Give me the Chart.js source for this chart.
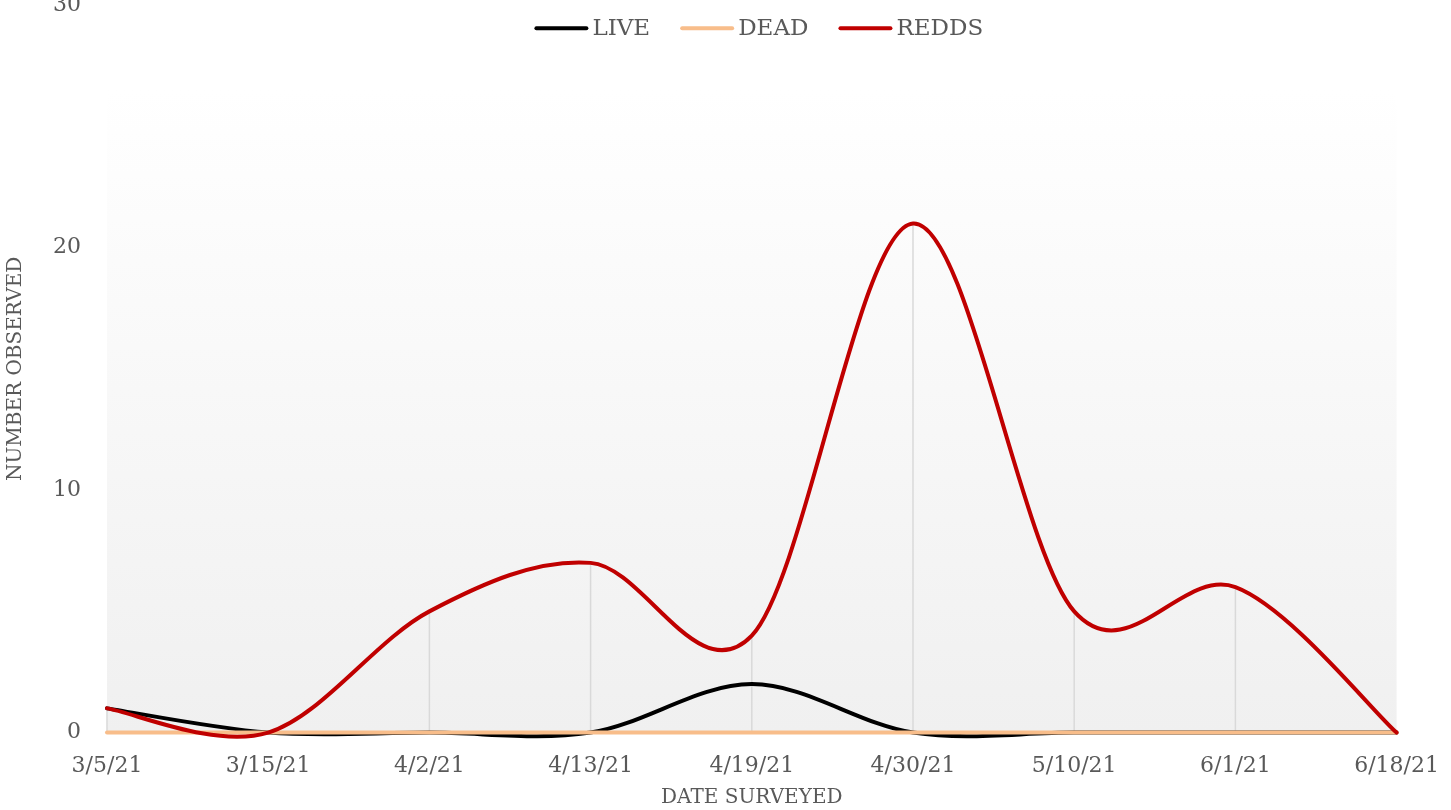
<!DOCTYPE html>
<html>
<head>
<meta charset="utf-8">
<script src="https://cdn.jsdelivr.net/npm/chart.js@4.4.0/dist/chart.umd.min.js"></script>
<style>
  html, body { margin: 0; padding: 0; background: #fff; overflow: hidden; }
  #wrap { position: absolute; left: 0; top: -26px; width: 1451px; height: 836px; }
</style>
</head>
<body>
<div id="wrap"><canvas id="chart"></canvas></div>
<script>
"use strict";

const dates = ["3/5/21", "3/15/21", "4/2/21", "4/13/21", "4/19/21", "4/30/21", "5/10/21", "6/1/21", "6/18/21"];
const live = [1, 0, 0, 0, 2, 0, 0, 0, 0];
const dead = [0, 0, 0, 0, 0, 0, 0, 0, 0];
const redds = [1, 0, 5, 7, 4, 21, 5, 6, 0];
const yTicks = [0, 10, 20, 30];

const textColor = "#595959";
const fontFamily = "'DejaVu Serif', serif";

// soft gray gradient behind the plot, like the spreadsheet
const plotBackground = {
    id: "plotBackground",
    beforeDraw(chart) {
        const { ctx, chartArea } = chart;
        const top = chartArea.top + (chartArea.bottom - chartArea.top) * 0.115;
        const grad = ctx.createLinearGradient(0, top, 0, chartArea.bottom);
        grad.addColorStop(0, "#ffffff");
        grad.addColorStop(1, "#f0f0f0");
        ctx.save();
        ctx.fillStyle = grad;
        ctx.fillRect(chartArea.left, top, chartArea.right - chartArea.left, chartArea.bottom - top);
        ctx.restore();
    }
};

// vertical drop lines from the highest value down to the axis
const dropLines = {
    id: "dropLines",
    beforeDatasetsDraw(chart) {
        const { ctx, scales } = chart;
        ctx.save();
        ctx.strokeStyle = "#d9d9d9";
        ctx.lineWidth = 1.5;
        for (let i = 0; i < dates.length; i++) {
            const top = Math.max(live[i], dead[i], redds[i]);
            if (top <= 0) continue;
            const x = scales.x.getPixelForValue(i);
            ctx.beginPath();
            ctx.moveTo(x, scales.y.getPixelForValue(top));
            ctx.lineTo(x, scales.y.getPixelForValue(0));
            ctx.stroke();
        }
        ctx.restore();
    }
};

// spreadsheet style smoothing: control arms are 1/6 of the neighbour chord
const excelSmooth = {
    id: "excelSmooth",
    beforeDatasetsDraw(chart) {
        chart.data.datasets.forEach((ds, di) => {
            const meta = chart.getDatasetMeta(di);
            meta.dataset.updateControlPoints(chart.chartArea, meta.indexAxis);
            const pts = meta.data;
            for (let i = 0; i < pts.length; i++) {
                const p = pts[i];
                const prev = pts[i - 1] || p;
                const next = pts[i + 1] || p;
                const dx = next.x - prev.x;
                const dy = next.y - prev.y;
                const d = Math.hypot(dx, dy) || 1;
                const fPrev = Math.min(1 / 6, Math.hypot(p.x - prev.x, p.y - prev.y) / (2 * d));
                const fNext = Math.min(1 / 6, Math.hypot(next.x - p.x, next.y - p.y) / (2 * d));
                p.cp1x = p.x - dx * fPrev;
                p.cp1y = p.y - dy * fPrev;
                p.cp2x = p.x + dx * fNext;
                p.cp2y = p.y + dy * fNext;
            }
        });
    }
};

// legend sits over the top of the plot, so draw it by hand
const overlayLegend = {
    id: "overlayLegend",
    afterDraw(chart) {
        const { ctx, chartArea } = chart;
        const sets = chart.data.datasets;
        const lineLen = 54, gapText = 4, gapItem = 30;
        ctx.save();
        ctx.font = "23px " + fontFamily;
        let total = 0;
        sets.forEach((ds, i) => {
            total += lineLen + gapText + ctx.measureText(ds.label).width;
            if (i < sets.length - 1) total += gapItem;
        });
        let x = (chartArea.left + chartArea.right) / 2 + 7 - total / 2;
        const y = chartArea.top + 23;
        ctx.textBaseline = "middle";
        ctx.lineCap = "round";
        sets.forEach((ds) => {
            ctx.strokeStyle = ds.borderColor;
            ctx.lineWidth = 4;
            ctx.beginPath();
            ctx.moveTo(x + 2, y);
            ctx.lineTo(x + lineLen - 2, y);
            ctx.stroke();
            x += lineLen + gapText;
            ctx.fillStyle = textColor;
            ctx.fillText(ds.label, x, y + 1);
            x += ctx.measureText(ds.label).width + gapItem;
        });
        ctx.restore();
    }
};

function series(label, data, color, order) {
    return {
        label: label,
        data: data,
        borderColor: color,
        backgroundColor: color,
        borderWidth: 4,
        pointRadius: 0,
        tension: 0.4,
        clip: false,
        order: order
    };
}

new Chart(document.getElementById("chart"), {
    type: "line",
    data: {
        labels: dates,
        datasets: [
            series("LIVE", live, "#000000", 3),
            series("DEAD", dead, "#f8bd8a", 2),
            series("REDDS", redds, "#c00000", 1)
        ]
    },
    plugins: [plotBackground, dropLines, excelSmooth, overlayLegend],
    options: {
        responsive: true,
        maintainAspectRatio: false,
        animation: false,
        layout: { padding: { left: 4, right: 51, top: 0, bottom: 0 } },
        elements: { line: { capBezierPoints: false, borderCapStyle: "round" } },
        plugins: {
            legend: { display: false },
            tooltip: { enabled: false }
        },
        scales: {
            x: {
                offset: false,
                grid: { display: false },
                border: { display: false },
                ticks: {
                    color: textColor,
                    font: { family: fontFamily, size: 22 },
                    maxRotation: 0,
                    autoSkip: false,
                    padding: 12
                },
                title: {
                    display: true,
                    text: "DATE SURVEYED",
                    color: textColor,
                    font: { family: fontFamily, size: 20 },
                    padding: { top: -5, bottom: 0 }
                }
            },
            y: {
                min: yTicks[0],
                max: yTicks[yTicks.length - 1],
                grid: { display: false },
                border: { display: false },
                afterBuildTicks(scale) {
                    scale.ticks = yTicks.map((v) => ({ value: v }));
                },
                ticks: {
                    color: textColor,
                    font: { family: fontFamily, size: 22 },
                    padding: 18
                },
                title: {
                    display: true,
                    text: "NUMBER OBSERVED",
                    color: textColor,
                    font: { family: fontFamily, size: 20 },
                    padding: { top: 0, bottom: 7 }
                }
            }
        }
    }
});
</script>
</body>
</html>
